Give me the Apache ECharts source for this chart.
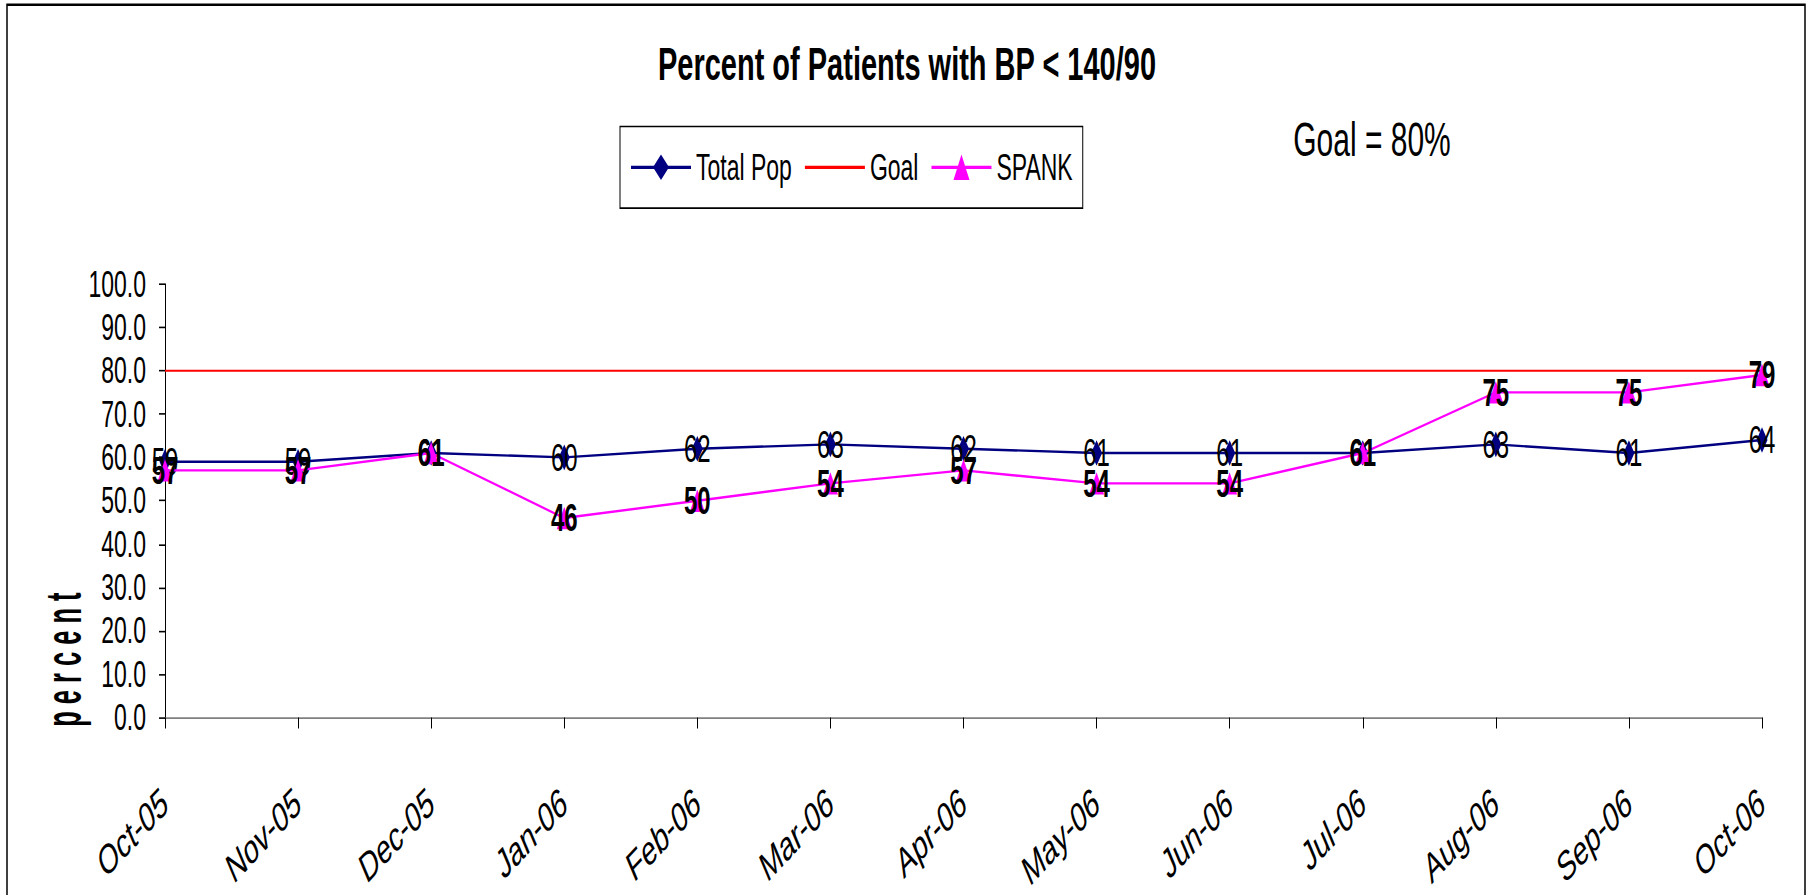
<!DOCTYPE html>
<html>
<head>
<meta charset="utf-8">
<script src="https://cdn.jsdelivr.net/npm/echarts@6/dist/echarts.min.js"></script>
<style>
html, body { margin: 0; padding: 0; background: #fff; overflow: hidden; }
/* the source picture is stretched tall, so draw it at 559px high and scale up */
#chart { position: absolute; left: 0; top: 0; width: 1812px; height: 559px;
         transform: scaleY(1.6011); transform-origin: 0 0; }
</style>
</head>
<body>
<div id="chart"></div>
<script>
const months = ['Oct-05', 'Nov-05', 'Dec-05', 'Jan-06', 'Feb-06', 'Mar-06', 'Apr-06',
                'May-06', 'Jun-06', 'Jul-06', 'Aug-06', 'Sep-06', 'Oct-06'];
const totalPop = [59, 59, 61, 60, 62, 63, 62, 61, 61, 61, 63, 61, 64];
const spank = [57, 57, 61, 46, 50, 54, 57, 54, 54, 61, 75, 75, 79];
const goal = [80, 80, 80, 80, 80, 80, 80, 80, 80, 80, 80, 80, 80];
const yMin = 0, yMax = 100, yStep = 10;

const FONT = '"Liberation Sans", Arial, sans-serif';

const chart = echarts.init(document.getElementById('chart'), null, { renderer: 'svg' });

const option = {
    animation: false,
    backgroundColor: '#fff',
    textStyle: { fontFamily: FONT },
    graphic: [
        {
            type: 'rect', silent: true,
            shape: { x: 7, y: 3, width: 1798, height: 600 },
            style: { fill: 'none', stroke: '#000', lineWidth: 1.5 }
        },
        {
            type: 'text', x: 907, y: 40,
            style: {
                text: 'Percent of Patients with BP < 140/90',
                font: 'bold 29px ' + FONT, fill: '#000',
                textAlign: 'center', textVerticalAlign: 'middle'
            }
        },
        {
            type: 'text', x: 1372, y: 87,
            style: {
                text: 'Goal = 80%', font: '30px ' + FONT, fill: '#000',
                textAlign: 'center', textVerticalAlign: 'middle'
            }
        },
        {
            // axis title, squeezed along its reading direction like the original
            type: 'text', x: 63, y: 412, rotation: Math.PI / 2, scaleX: 0.318,
            style: {
                text: 'p e r c e n t', font: 'bold 50px ' + FONT, fill: '#000',
                textAlign: 'center', textVerticalAlign: 'middle'
            }
        }
    ],
    legend: {
        left: 620,
        top: 79,
        padding: [14, 10, 14, 10],
        itemWidth: 60,
        itemHeight: 20,
        itemGap: 12,
        borderColor: '#000',
        borderWidth: 1,
        textStyle: { fontSize: 23, color: '#000', fontFamily: FONT, lineHeight: 20 },
        data: [
            'Total Pop',
            { name: 'Goal', itemStyle: { opacity: 0 } },
            'SPANK'
        ]
    },
    grid: { left: 165, right: 50, top: 177.4, bottom: 105.6 },
    xAxis: {
        type: 'category',
        data: months,
        boundaryGap: false,
        axisLine: { lineStyle: { color: '#808080', width: 1.2 } },
        axisTick: { show: true, length: 7, lineStyle: { color: '#000' } },
        axisLabel: { rotate: 34, interval: 0, fontSize: 26, color: '#000', margin: 50, fontFamily: FONT }
    },
    yAxis: {
        type: 'value',
        min: yMin, max: yMax, interval: yStep,
        axisLine: { show: true, lineStyle: { color: '#000', width: 1 } },
        axisTick: { show: true, length: 6, lineStyle: { color: '#000' } },
        axisLabel: { formatter: v => v.toFixed(1), fontSize: 23, color: '#000', margin: 19, fontFamily: FONT },
        splitLine: { show: false }
    },
    series: [
        {
            name: 'Total Pop', type: 'line', data: totalPop,
            symbol: 'diamond', symbolSize: [11, 16], showAllSymbol: true,
            itemStyle: { color: '#000080' },
            lineStyle: { color: '#000080', width: 1.5 },
            label: { show: true, position: 'inside', color: '#000', fontSize: 24,
                     fontFamily: FONT, formatter: p => Math.round(p.value) },
            z: 3
        },
        {
            name: 'Goal', type: 'line', data: goal,
            symbol: 'none',
            itemStyle: { color: '#ff0000', opacity: 0 },
            lineStyle: { color: '#ff0000', width: 1.2 },
            z: 2
        },
        {
            name: 'SPANK', type: 'line', data: spank,
            symbol: 'triangle', symbolSize: [15, 14], showAllSymbol: true,
            itemStyle: { color: '#ff00ff' },
            lineStyle: { color: '#ff00ff', width: 1.5 },
            label: { show: true, position: 'inside', color: '#000', fontSize: 24, fontWeight: 'bold',
                     fontFamily: FONT, formatter: p => Math.round(p.value) },
            z: 4
        }
    ]
};

chart.setOption(option);
</script>
</body>
</html>
